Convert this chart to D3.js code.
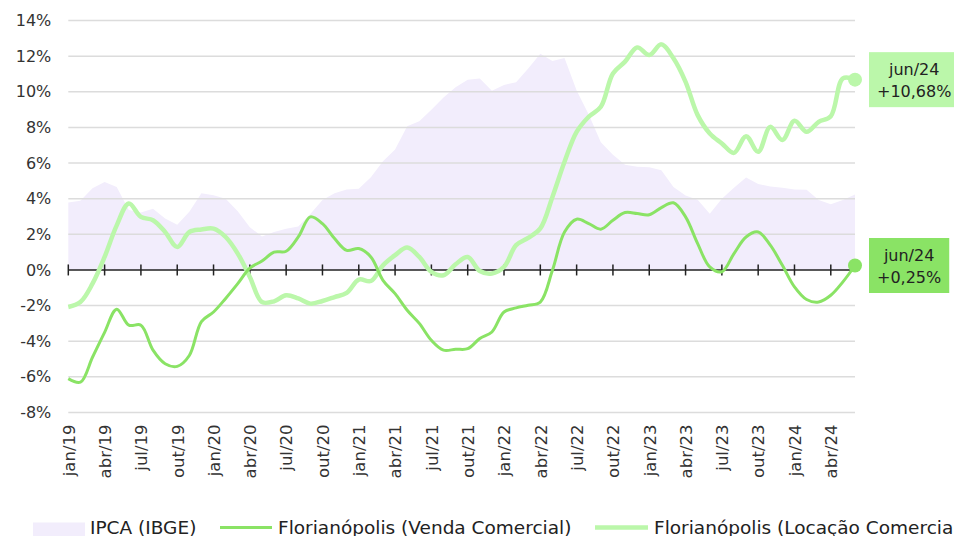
<!DOCTYPE html>
<html>
<head>
<meta charset="utf-8">
<script src="https://cdn.jsdelivr.net/npm/d3@7"></script>
<style>
  body { margin: 0; background: #fff; }
  svg { font-family: "DejaVu Sans", sans-serif; display: block; }
</style>
</head>
<body>
<div id="chart"></div>
<script>
// mes a mes, jan/19 .. jun/24
var months = [
  "jan/19","fev/19","mar/19","abr/19","mai/19","jun/19","jul/19","ago/19","set/19","out/19","nov/19","dez/19",
  "jan/20","fev/20","mar/20","abr/20","mai/20","jun/20","jul/20","ago/20","set/20","out/20","nov/20","dez/20",
  "jan/21","fev/21","mar/21","abr/21","mai/21","jun/21","jul/21","ago/21","set/21","out/21","nov/21","dez/21",
  "jan/22","fev/22","mar/22","abr/22","mai/22","jun/22","jul/22","ago/22","set/22","out/22","nov/22","dez/22",
  "jan/23","fev/23","mar/23","abr/23","mai/23","jun/23","jul/23","ago/23","set/23","out/23","nov/23","dez/23",
  "jan/24","fev/24","mar/24","abr/24","mai/24","jun/24"
];

var tickLabels = ["jan/19","abr/19","jul/19","out/19","jan/20","abr/20","jul/20","out/20",
  "jan/21","abr/21","jul/21","out/21","jan/22","abr/22","jul/22","out/22",
  "jan/23","abr/23","jul/23","out/23","jan/24","abr/24"];

var yTicks = [-8,-6,-4,-2,0,2,4,6,8,10,12,14];

var ipca = [
  3.78,3.89,4.58,4.94,4.66,3.37,3.22,3.43,2.89,2.54,3.27,4.31,
  4.19,4.00,3.30,2.40,1.88,2.13,2.31,2.44,3.14,3.92,4.31,4.52,
  4.56,5.20,6.10,6.76,8.06,8.35,8.99,9.68,10.25,10.67,10.74,10.06,
  10.38,10.54,11.30,12.13,11.73,11.89,10.07,8.73,7.17,6.47,5.90,5.79,
  5.77,5.60,4.65,4.18,3.94,3.16,3.99,4.61,5.19,4.82,4.68,4.62,
  4.51,4.50,3.93,3.69,3.93,4.23
];

var venda = [
  -6.1,-6.3,-4.9,-3.5,-2.2,-3.1,-3.1,-4.5,-5.26,-5.41,-4.8,-2.9,
  -2.36,-1.6,-0.77,0.1,0.5,1.0,1.05,1.85,2.98,2.6,1.76,1.1,
  1.2,0.73,-0.58,-1.33,-2.26,-3.0,-3.95,-4.5,-4.45,-4.42,-3.85,-3.48,
  -2.36,-2.13,-1.98,-1.8,-0.02,2.13,2.85,2.6,2.29,2.79,3.22,3.17,
  3.1,3.5,3.77,2.98,1.48,0.17,-0.1,0.92,1.85,2.13,1.39,0.26,
  -0.95,-1.66,-1.8,-1.42,-0.67,0.25
];

var locacao = [
  -2.08,-1.8,-0.77,0.73,2.5,3.73,2.98,2.79,2.13,1.29,2.13,2.27,
  2.32,1.85,0.92,-0.39,-1.8,-1.76,-1.42,-1.6,-1.89,-1.74,-1.52,-1.29,
  -0.54,-0.62,0.26,0.83,1.26,0.73,-0.11,-0.3,0.32,0.73,-0.06,-0.2,
  0.17,1.39,1.8,2.33,4.1,6.07,7.75,8.6,9.16,11.03,11.69,12.49,
  12.06,12.66,11.88,10.56,8.69,7.66,7.1,6.57,7.51,6.63,8.03,7.29,
  8.37,7.75,8.31,8.63,10.75,10.68
];

var colIpca = "#f2edfc", colVenda = "#8ae365", colLoc = "#bbf7aa";

var width = 954, height = 536;
var margin = {top: 20.5, right: 99, bottom: 123.5, left: 68.3};

var svg = d3.select("#chart").append("svg")
  .attr("width", width)
  .attr("height", height);

var x = d3.scalePoint()
  .domain(months)
  .range([margin.left, width - margin.right]);
var y = d3.scaleLinear()
  .domain([-8, 14])
  .range([height - margin.bottom, margin.top]);

// IPCA area
var area = d3.area()
  .x((d, i) => x(months[i]))
  .y0(y(0))
  .y1(d => y(d));
svg.append("path")
  .datum(ipca)
  .attr("d", area)
  .attr("fill", colIpca);

// grid
svg.append("g")
  .selectAll("line")
  .data(yTicks.filter(d => d !== 0))
  .enter().append("line")
    .attr("x1", margin.left)
    .attr("x2", width - margin.right)
    .attr("y1", d => y(d))
    .attr("y2", d => y(d))
    .attr("stroke", "#dcdcdc")
    .attr("stroke-width", 1.5);

// y labels
var yAxis = d3.axisLeft(y).tickValues(yTicks).tickSize(0).tickPadding(17)
  .tickFormat(d => d + "%");
var gy = svg.append("g")
  .attr("transform", "translate(" + margin.left + ",0)")
  .call(yAxis);
gy.select(".domain").remove();
gy.selectAll("text")
  .attr("fill", "#333")
  .style("font-size", "16px")
  .style("font-family", "DejaVu Sans, sans-serif");

// zero line with ticks
var gx = svg.append("g")
  .attr("transform", "translate(0," + y(0) + ")");
gx.append("line")
  .attr("x1", margin.left)
  .attr("x2", width - margin.right)
  .attr("stroke", "#222")
  .attr("stroke-width", 1.5);
gx.selectAll(".tk")
  .data(tickLabels)
  .enter().append("line")
    .attr("class", "tk")
    .attr("x1", d => x(d))
    .attr("x2", d => x(d))
    .attr("y1", -5.5)
    .attr("y2", 5.5)
    .attr("stroke", "#222")
    .attr("stroke-width", 1.5);

// x labels, rotated
var xAxis = d3.axisBottom(x).tickValues(tickLabels).tickSize(0).tickPadding(0);
var gxl = svg.append("g")
  .attr("transform", "translate(0," + (height - margin.bottom + 12) + ")")
  .call(xAxis);
gxl.select(".domain").remove();
gxl.selectAll("text")
  .attr("fill", "#333")
  .style("font-size", "16.5px")
  .style("font-family", "DejaVu Sans, sans-serif")
  .style("text-anchor", "end")
  .attr("x", 0)
  .attr("y", 0)
  .attr("dx", 0)
  .attr("dy", "0.35em")
  .attr("transform", "rotate(-90)");

// lines
var line = d3.line()
  .x((d, i) => x(months[i]))
  .y(d => y(d))
  .curve(d3.curveCatmullRom.alpha(0.5));

svg.append("path")
  .datum(locacao)
  .attr("d", line)
  .attr("fill", "none")
  .attr("stroke", colLoc)
  .attr("stroke-width", 4.5);

svg.append("path")
  .datum(venda)
  .attr("d", line)
  .attr("fill", "none")
  .attr("stroke", colVenda)
  .attr("stroke-width", 3);

// end dots + labels
var last = months.length - 1;
var ends = [
  {v: locacao[last], color: colLoc},
  {v: venda[last], color: colVenda}
];
ends.forEach(function(e) {
  var cx = x(months[last]), cy = y(e.v);
  svg.append("circle")
    .attr("cx", cx).attr("cy", cy).attr("r", 7)
    .attr("fill", e.color);
  var g = svg.append("g");
  var rect = g.append("rect").attr("fill", e.color);
  var txt = g.append("text")
    .attr("text-anchor", "middle")
    .attr("fill", "#222")
    .style("font-size", "16px");
  var valTxt = (e.v >= 0 ? "+" : "") + e.v.toFixed(2).replace(".", ",") + "%";
  txt.append("tspan").attr("x", 0).attr("y", -10).attr("dy", "0.35em").text(months[last]);
  txt.append("tspan").attr("x", 0).attr("y", 12).attr("dy", "0.35em").text(valTxt);
  var w = txt.node().getBBox().width + 16;
  rect.attr("x", -w / 2).attr("y", -27.5).attr("width", w).attr("height", 55);
  g.attr("transform", "translate(" + (cx + 14 + w / 2) + "," + cy + ")");
});

// legend
var leg = svg.append("g").attr("transform", "translate(0,527.5)");
leg.append("rect").attr("x", 33).attr("y", -5).attr("width", 52).attr("height", 16).attr("fill", colIpca);
leg.append("line").attr("x1", 220).attr("x2", 272).attr("stroke", colVenda).attr("stroke-width", 3);
leg.append("line").attr("x1", 595).attr("x2", 648).attr("stroke", colLoc).attr("stroke-width", 4.5);
var legItems = [
  {x: 90, t: "IPCA (IBGE)"},
  {x: 278, t: "Florianópolis (Venda Comercial)"},
  {x: 654, t: "Florianópolis (Locação Comercial)"}
];
leg.selectAll("text.lg")
  .data(legItems)
  .enter().append("text")
    .attr("class", "lg")
    .attr("x", d => d.x)
    .attr("y", 0)
    .attr("dy", "0.35em")
    .attr("fill", "#222")
    .style("font-size", "18.5px")
    .text(d => d.t);
</script>
</body>
</html>
